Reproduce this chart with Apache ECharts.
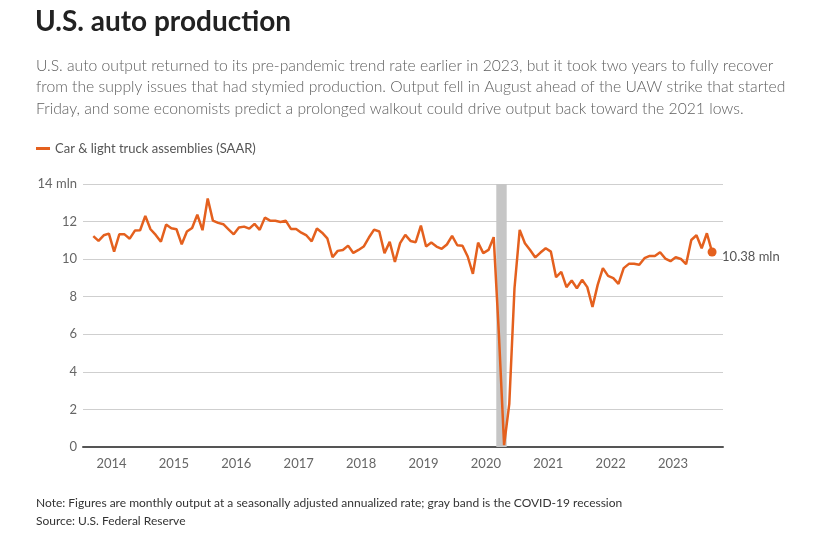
<!DOCTYPE html>
<html><head><meta charset="utf-8">
<script src="https://cdn.jsdelivr.net/npm/echarts@6/dist/echarts.min.js"></script>
<style>html,body{margin:0;padding:0;background:#fff}#c{width:822px;height:544px}</style>
</head><body><div id="c"></div>
<script>
// Monthly car & light truck assemblies (SAAR, mln), Sep 2013 - Aug 2023
const firstYear = 2013, firstMonth = 9;
const assemblies = [
  11.23, 10.97, 11.27, 11.36,                                           // 2013 Sep-Dec
  10.40, 11.32, 11.32, 11.09, 11.52, 11.54, 12.30, 11.59, 11.29, 10.93, 11.84, 11.64, // 2014
  11.59, 10.79, 11.47, 11.66, 12.37, 11.54, 13.23, 12.05, 11.93, 11.86, 11.59, 11.32, // 2015
  11.68, 11.73, 11.62, 11.88, 11.56, 12.21, 12.05, 12.04, 11.98, 12.05, 11.61, 11.61, // 2016
  11.41, 11.26, 10.95, 11.63, 11.41, 11.11, 10.10, 10.44, 10.49, 10.72, 10.33, 10.49, // 2017
  10.67, 11.15, 11.57, 11.47, 10.32, 10.92, 9.85, 10.85, 11.29, 10.97, 10.90, 11.79,  // 2018
  10.67, 10.88, 10.67, 10.55, 10.78, 11.24, 10.74, 10.71, 10.14, 9.22, 10.88, 10.32,  // 2019
  10.49, 11.17, 6.00, 0.10, 2.30, 8.45, 11.56, 10.85, 10.49, 10.09, 10.35, 10.58,     // 2020
  10.40, 9.04, 9.32, 8.51, 8.86, 8.45, 8.90, 8.51, 7.46, 8.63, 9.52, 9.11,            // 2021
  8.99, 8.68, 9.52, 9.75, 9.75, 9.70, 10.05, 10.17, 10.17, 10.37, 10.03, 9.89,        // 2022
  10.10, 10.01, 9.73, 11.02, 11.27, 10.58, 11.38, 10.38                               // 2023 Jan-Aug
];
const yearTicks = [2014, 2015, 2016, 2017, 2018, 2019, 2020, 2021, 2022, 2023];
const yTicks = [0, 2, 4, 6, 8, 10, 12, 14];
const recession = [[2020, 3], [2020, 5]]; // band start / end (year, month)
const seriesName = 'Car & light truck assemblies (SAAR)';
const lastLabel = '10.38 mln';

const titleText = 'U.S. auto production';
const subtitleText = [
  'U.S. auto output returned to its pre-pandemic trend rate earlier in 2023, but it took two years to fully recover',
  'from the supply issues that had stymied production. Output fell in August ahead of the UAW strike that started',
  'Friday, and some economists predict a prolonged walkout could drive output back toward the 2021 lows.'
].join('\n');
const footText = 'Note: Figures are monthly output at a seasonally adjusted annualized rate; gray band is the COVID-19 recession\nSource: U.S. Federal Reserve';

// month index -> fractional year (mid-month)
function monthPos(i) {
  const m = firstMonth - 1 + i;
  return firstYear + Math.floor(m / 12) + ((m % 12) + 0.5) / 12;
}
const lineData = assemblies.map((v, i) => [monthPos(i), v]);
const lastPoint = lineData[lineData.length - 1];
const recPos = recession.map(([y, m]) => y + (m - 1) / 12);

const FONT = 'Lato, "Noto Sans", sans-serif';
const ORANGE = '#e4601e';

const chart = echarts.init(document.getElementById('c'), null, {renderer: 'canvas'});
chart.setOption({
  animation: false,
  backgroundColor: '#fff',
  textStyle: {fontFamily: FONT},
  title: [
    {text: titleText, left: 35, top: 8, padding: 0,
     textStyle: {fontSize: 28, fontWeight: 'bold', color: '#222', fontFamily: FONT}},
    {text: subtitleText, left: 36, top: 55, padding: 0,
     textStyle: {fontSize: 15.7, lineHeight: 21.5, fontWeight: 300, color: '#5e5e5e', fontFamily: FONT}},
    {text: footText, left: 36, top: 494, padding: 0,
     textStyle: {fontSize: 12, lineHeight: 18, fontWeight: 'normal', color: '#333', fontFamily: FONT}}
  ],
  legend: {
    data: [seriesName], left: 36, top: 142, padding: 0,
    icon: 'rect', itemWidth: 14, itemHeight: 3, itemGap: 10,
    textStyle: {fontSize: 13, color: '#555', fontFamily: FONT}
  },
  grid: {left: 83, right: 99, top: 184, bottom: 97, containLabel: false},
  xAxis: {
    type: 'value', min: 2013.543, max: 2023.80,
    splitLine: {show: false},
    axisLine: {show: true, onZero: true, lineStyle: {color: '#555', width: 2}},
    axisTick: {show: false},
    axisLabel: {customValues: yearTicks, formatter: v => String(v), color: '#666', fontSize: 13, margin: 10, fontFamily: FONT}
  },
  yAxis: {
    type: 'value', min: yTicks[0], max: yTicks[yTicks.length - 1], interval: 2,
    axisLine: {show: false}, axisTick: {show: false},
    splitLine: {lineStyle: {color: '#cfcfcf', width: 1}},
    axisLabel: {formatter: v => v === 14 ? '14 mln' : String(v), color: '#666', fontSize: 13, margin: 6, fontFamily: FONT}
  },
  series: [
    {
      name: seriesName, type: 'line', data: lineData, showSymbol: false, symbol: 'none',
      lineStyle: {color: ORANGE, width: 2.5}, itemStyle: {color: ORANGE},
      z: 3,
      markArea: {
        silent: true,
        itemStyle: {color: '#c6c6c6'},
        data: [[{xAxis: recPos[0]}, {xAxis: recPos[1]}]]
      },
      endLabel: {show: true, formatter: lastLabel, color: '#555', fontSize: 13, distance: 10, offset: [0, 5], fontFamily: FONT}
    },
    {
      name: 'last', type: 'scatter', data: [lastPoint], symbol: 'circle', symbolSize: 9,
      itemStyle: {color: ORANGE, opacity: 1}, z: 4, silent: true
    }
  ]
});
</script>
</body></html>
